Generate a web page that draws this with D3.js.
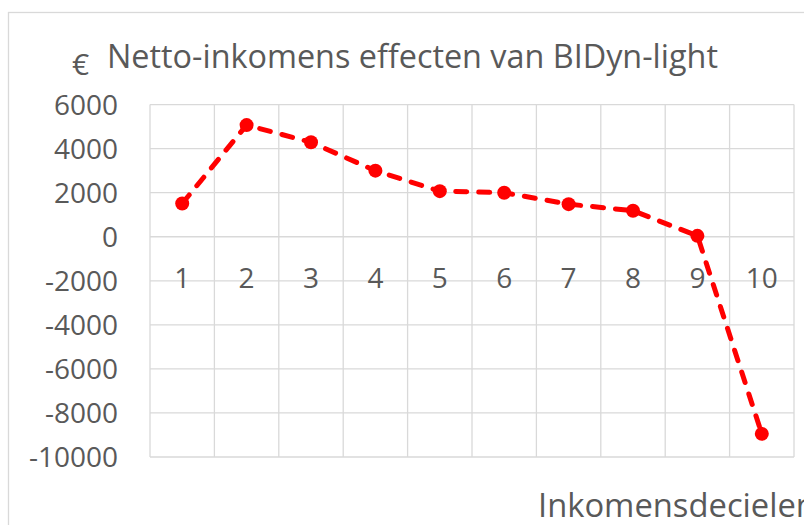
<!DOCTYPE html>
<html>
<head>
<meta charset="utf-8">
<script src="https://cdn.jsdelivr.net/npm/d3@7"></script>
<style>
  body { margin: 0; background: #fff; }
  svg { display: block; }
  text { font-family: "Open Sans", "Noto Sans", sans-serif; fill: #595959; }
</style>
</head>
<body>
<svg id="chart" width="804" height="525"></svg>
<script>
// decielen en netto-inkomenseffect (euro)
var deciles = ['1', '2', '3', '4', '5', '6', '7', '8', '9', '10'];
var netEffect = [1510, 5070, 4290, 3000, 2070, 2000, 1480, 1180, 40, -8950];
var yTicks = [6000, 4000, 2000, 0, -2000, -4000, -6000, -8000, -10000];

var title = 'Netto-inkomens effecten van BIDyn-light';
var xTitle = 'Inkomensdecielen';
var yTitle = '€';

var svg = d3.select('#chart');

var x = d3.scaleBand()
  .domain(deciles)
  .range([150, 794]);

var y = d3.scaleLinear()
  .domain([-10000, 6000])
  .range([457, 104.6]);

// chart frame, runs off the right and bottom edge
svg.append('rect')
  .attr('x', 8.5)
  .attr('y', 12.5)
  .attr('width', 900)
  .attr('height', 600)
  .attr('fill', '#fff')
  .attr('stroke', '#d9d9d9')
  .attr('stroke-width', 1.3);

var grid = svg.append('g').attr('class', 'grid');

grid.selectAll('line.h')
  .data(yTicks)
  .enter()
  .append('line')
  .attr('class', 'h')
  .attr('x1', x.range()[0])
  .attr('x2', x.range()[1])
  .attr('y1', function(d) { return y(d); })
  .attr('y2', function(d) { return y(d); })
  .attr('stroke', '#d9d9d9')
  .attr('stroke-width', 1.3);

var edges = deciles.map(function(d) { return x(d); }).concat([x.range()[1]]);
grid.selectAll('line.v')
  .data(edges)
  .enter()
  .append('line')
  .attr('class', 'v')
  .attr('x1', function(d) { return d; })
  .attr('x2', function(d) { return d; })
  .attr('y1', y(6000))
  .attr('y2', y(-10000))
  .attr('stroke', '#d9d9d9')
  .attr('stroke-width', 1.3);

// y tick labels
svg.append('g')
  .selectAll('text')
  .data(yTicks)
  .enter()
  .append('text')
  .attr('x', 118)
  .attr('y', function(d) { return y(d); })
  .attr('dy', '0.36em')
  .attr('text-anchor', 'end')
  .style('font-size', '28px')
  .text(function(d) { return d; });

// x tick labels, under the zero line
svg.append('g')
  .selectAll('text')
  .data(deciles)
  .enter()
  .append('text')
  .attr('x', function(d) { return x(d) + x.bandwidth() / 2; })
  .attr('y', y(0) + 51)
  .attr('text-anchor', 'middle')
  .style('font-size', '28px')
  .text(function(d) { return d; });

// line + markers
var line = d3.line()
  .x(function(d, i) { return x(deciles[i]) + x.bandwidth() / 2; })
  .y(function(d) { return y(d); });

svg.append('path')
  .datum(netEffect)
  .attr('d', line)
  .attr('fill', 'none')
  .attr('stroke', '#ff0000')
  .attr('stroke-width', 5)
  .attr('stroke-linecap', 'round')
  .attr('stroke-dasharray', '11,12');

svg.append('g')
  .selectAll('circle')
  .data(netEffect)
  .enter()
  .append('circle')
  .attr('cx', function(d, i) { return x(deciles[i]) + x.bandwidth() / 2; })
  .attr('cy', function(d) { return y(d); })
  .attr('r', 7)
  .attr('fill', '#ff0000');

// titles, sized to the widths in the original
function fit(sel, base, width) {
  var len = sel.node().getComputedTextLength();
  sel.style('font-size', (base * width / len) + 'px');
}

var t = svg.append('text')
  .attr('x', 107)
  .attr('y', 68)
  .style('font-size', '30px')
  .text(title);
fit(t, 30, 611);

svg.append('text')
  .attr('x', 72)
  .attr('y', 75)
  .style('font-size', '30px')
  .text(yTitle);

var xt = svg.append('text')
  .attr('x', 538)
  .attr('y', 517)
  .style('font-size', '30px')
  .text(xTitle);
fit(xt, 30, 278);
</script>
</body>
</html>
